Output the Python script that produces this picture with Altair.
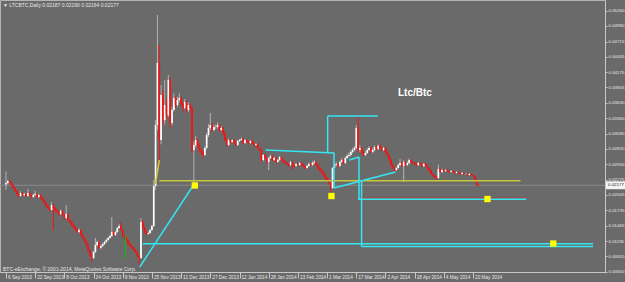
import altair as alt
import pandas as pd

START = pd.Timestamp("2013-09-06")

# ---- daily LTC/BTC candles ----
first_open = 0.02190
closes = [
    0.02217, 0.02252, 0.02234, 0.02181, 0.02128, 0.02075, 0.02022, 0.01987, 0.02040, 0.02005,
    0.02022, 0.01987, 0.02040, 0.02005, 0.01969, 0.02005, 0.02022, 0.01969, 0.02005, 0.01952,
    0.01916, 0.01863, 0.01810, 0.01775, 0.01740, 0.01828, 0.01775, 0.01740, 0.01704, 0.01669,
    0.01722, 0.01651, 0.01598, 0.01669, 0.01563, 0.01528, 0.01475, 0.01440, 0.01404, 0.01351,
    0.01386, 0.01298, 0.01245, 0.01192, 0.01122, 0.01033, 0.00945, 0.00892, 0.00998, 0.01122,
    0.01175, 0.01069, 0.01104, 0.01139, 0.01175, 0.01210, 0.01245, 0.01280, 0.01351, 0.01298,
    0.01351, 0.01422, 0.01457, 0.01386, 0.01280, 0.01245, 0.01210, 0.01139, 0.01104, 0.01069,
    0.01033, 0.00998, 0.00927, 0.00892, 0.01528, 0.01422, 0.01351, 0.01316, 0.01333, 0.01386,
    0.01457, 0.02164, 0.03241, 0.04336, 0.02976, 0.03771, 0.03329, 0.03594, 0.03418, 0.04036,
    0.03276, 0.03506, 0.03718, 0.03594, 0.03683, 0.03718, 0.03612, 0.03541, 0.03647, 0.03506,
    0.03594, 0.03541, 0.02800, 0.02888, 0.02976, 0.02888, 0.02800, 0.02764, 0.02711, 0.02835,
    0.03064, 0.03188, 0.03241, 0.03153, 0.03206, 0.03206, 0.03241, 0.03153, 0.03188, 0.03100,
    0.02976, 0.02888, 0.02976, 0.02941, 0.02976, 0.02923, 0.02888, 0.02959, 0.02976, 0.02994,
    0.02923, 0.02976, 0.02941, 0.02923, 0.02959, 0.02923, 0.02888, 0.02906, 0.02835, 0.02800,
    0.02623, 0.02711, 0.02658, 0.02588, 0.02658, 0.02694, 0.02623, 0.02658, 0.02588, 0.02623,
    0.02676, 0.02623, 0.02588, 0.02570, 0.02552, 0.02535, 0.02588, 0.02535, 0.02517, 0.02552,
    0.02535, 0.02570, 0.02535, 0.02517, 0.02482, 0.02517, 0.02552, 0.02535, 0.02570, 0.02588,
    0.02535, 0.02482, 0.02446, 0.02411, 0.02358, 0.02305, 0.02270, 0.02217, 0.02128, 0.02482,
    0.02535, 0.02552, 0.02517, 0.02588, 0.02623, 0.02570, 0.02658, 0.02694, 0.02711, 0.02764,
    0.02800, 0.02835, 0.03188, 0.02800, 0.02835, 0.02764, 0.02711, 0.02747, 0.02800, 0.02835,
    0.02764, 0.02800, 0.02853, 0.02817, 0.02870, 0.02835, 0.02800, 0.02835, 0.02764, 0.02711,
    0.02623, 0.02535, 0.02482, 0.02446, 0.02482, 0.02535, 0.02570, 0.02517, 0.02588, 0.02535,
    0.02570, 0.02623, 0.02588, 0.02570, 0.02552, 0.02535, 0.02570, 0.02552, 0.02517, 0.02552,
    0.02535, 0.02482, 0.02446, 0.02376, 0.02340, 0.02323, 0.02305, 0.02464, 0.02411, 0.02446,
    0.02429, 0.02446, 0.02429, 0.02411, 0.02429, 0.02411, 0.02393, 0.02411, 0.02393, 0.02376,
    0.02393, 0.02376, 0.02376, 0.02358, 0.02376, 0.02358, 0.02340, 0.02270, 0.02187, 0.02177,
]
highs = [
    0.02420, 0.02275, 0.02262, 0.02245, 0.02196, 0.02140, 0.02090, 0.02035, 0.02075, 0.02060,
    0.02050, 0.02035, 0.02110, 0.02055, 0.02020, 0.02030, 0.02080, 0.02035, 0.02025, 0.02015,
    0.01975, 0.01935, 0.01880, 0.01830, 0.01790, 0.01881, 0.01850, 0.01790, 0.01760, 0.01720,
    0.01750, 0.01735, 0.01665, 0.01828, 0.01680, 0.01580, 0.01545, 0.01490, 0.01460, 0.01420,
    0.01420, 0.01400, 0.01320, 0.01260, 0.01210, 0.01140, 0.01050, 0.00970, 0.01020, 0.01245,
    0.01200, 0.01190, 0.01125, 0.01160, 0.01195, 0.01235, 0.01265, 0.01310, 0.01616, 0.01370,
    0.01370, 0.01440, 0.01490, 0.01528, 0.01400, 0.01300, 0.01265, 0.01225, 0.01160, 0.01120,
    0.01085, 0.01050, 0.01010, 0.00945, 0.01598, 0.01560, 0.01440, 0.01370, 0.01360, 0.01410,
    0.01480, 0.02270, 0.03329, 0.05184, 0.04654, 0.03948, 0.03850, 0.04036, 0.03700, 0.04124,
    0.04080, 0.03560, 0.03800, 0.03760, 0.03740, 0.03800, 0.03740, 0.03650, 0.03700, 0.03680,
    0.03640, 0.03620, 0.03560, 0.02950, 0.03050, 0.03010, 0.02920, 0.02830, 0.02790, 0.02870,
    0.03100, 0.03260, 0.03453, 0.03270, 0.03240, 0.03250, 0.03290, 0.03260, 0.03220, 0.03210,
    0.03120, 0.03000, 0.03000, 0.02990, 0.02990, 0.02990, 0.02940, 0.02975, 0.02995, 0.03020,
    0.03010, 0.02990, 0.02990, 0.02955, 0.02975, 0.02975, 0.02940, 0.02925, 0.02920, 0.02850,
    0.02820, 0.02730, 0.02730, 0.02680, 0.02680, 0.02720, 0.02710, 0.02680, 0.02670, 0.02640,
    0.02700, 0.02690, 0.02640, 0.02610, 0.02590, 0.02570, 0.02610, 0.02600, 0.02550, 0.02570,
    0.02570, 0.02590, 0.02590, 0.02555, 0.02530, 0.02540, 0.02580, 0.02570, 0.02600, 0.02620,
    0.02600, 0.02550, 0.02500, 0.02470, 0.02430, 0.02380, 0.02330, 0.02290, 0.02240, 0.02500,
    0.02560, 0.02590, 0.02570, 0.02610, 0.02660, 0.02640, 0.02690, 0.02730, 0.02760, 0.02800,
    0.02840, 0.02870, 0.03241, 0.03382, 0.02880, 0.02860, 0.02790, 0.02780, 0.02830, 0.02870,
    0.02860, 0.02830, 0.02880, 0.02870, 0.02900, 0.02920, 0.02850, 0.02860, 0.02850, 0.02790,
    0.02730, 0.02650, 0.02560, 0.02500, 0.02500, 0.02560, 0.02640, 0.02600, 0.02620, 0.02600,
    0.02600, 0.02650, 0.02640, 0.02600, 0.02590, 0.02570, 0.02590, 0.02580, 0.02570, 0.02570,
    0.02570, 0.02550, 0.02500, 0.02460, 0.02390, 0.02360, 0.02340, 0.02540, 0.02480, 0.02470,
    0.02465, 0.02460, 0.02460, 0.02440, 0.02445, 0.02440, 0.02425, 0.02425, 0.02420, 0.02405,
    0.02410, 0.02400, 0.02390, 0.02385, 0.02390, 0.02380, 0.02370, 0.02350, 0.02280, 0.02190,
]
lows = [
    0.02100, 0.02200, 0.02215, 0.02165, 0.02110, 0.02060, 0.01995, 0.01960, 0.01975, 0.01990,
    0.01985, 0.01970, 0.01975, 0.01990, 0.01945, 0.01955, 0.01990, 0.01950, 0.01955, 0.01930,
    0.01895, 0.01845, 0.01790, 0.01755, 0.01715, 0.01730, 0.01386, 0.01715, 0.01680, 0.01640,
    0.01650, 0.01635, 0.01575, 0.01585, 0.01540, 0.01500, 0.01455, 0.01420, 0.01380, 0.01330,
    0.01330, 0.01280, 0.01225, 0.01170, 0.01100, 0.01010, 0.00920, 0.00821, 0.00870, 0.00980,
    0.01100, 0.01050, 0.01050, 0.01090, 0.01120, 0.01160, 0.01195, 0.01230, 0.01265, 0.01280,
    0.01280, 0.01335, 0.01405, 0.01370, 0.01260, 0.01225, 0.01190, 0.01120, 0.01085, 0.01050,
    0.01015, 0.00980, 0.00905, 0.00768, 0.00880, 0.01400, 0.01330, 0.01295, 0.01300, 0.01320,
    0.01370, 0.01440, 0.02100, 0.03150, 0.02499, 0.02900, 0.03250, 0.03250, 0.03350, 0.03380,
    0.03200, 0.03230, 0.03480, 0.03550, 0.03560, 0.03640, 0.03580, 0.03480, 0.03520, 0.03450,
    0.03470, 0.03500, 0.02750, 0.02217, 0.02850, 0.02860, 0.02760, 0.02720, 0.02660, 0.02690,
    0.02810, 0.03030, 0.03150, 0.03120, 0.03130, 0.03170, 0.03180, 0.03120, 0.03130, 0.03060,
    0.02950, 0.02860, 0.02870, 0.02920, 0.02925, 0.02900, 0.02870, 0.02870, 0.02940, 0.02960,
    0.02905, 0.02905, 0.02925, 0.02905, 0.02910, 0.02905, 0.02870, 0.02875, 0.02810, 0.02780,
    0.02590, 0.02600, 0.02640, 0.02560, 0.02446, 0.02640, 0.02600, 0.02610, 0.02570, 0.02570,
    0.02610, 0.02600, 0.02570, 0.02550, 0.02530, 0.02500, 0.02520, 0.02446, 0.02500, 0.02505,
    0.02515, 0.02520, 0.02520, 0.02495, 0.02460, 0.02470, 0.02500, 0.02515, 0.02520, 0.02555,
    0.02515, 0.02460, 0.02420, 0.02390, 0.02335, 0.02280, 0.02245, 0.02190, 0.02058, 0.02110,
    0.02460, 0.02510, 0.02495, 0.02500, 0.02570, 0.02550, 0.02550, 0.02640, 0.02670, 0.02690,
    0.02740, 0.02780, 0.02810, 0.02760, 0.02770, 0.02740, 0.02690, 0.02690, 0.02730, 0.02780,
    0.02740, 0.02740, 0.02780, 0.02800, 0.02800, 0.02810, 0.02780, 0.02780, 0.02740, 0.02690,
    0.02600, 0.02500, 0.02460, 0.02420, 0.02430, 0.02470, 0.02510, 0.02500, 0.02234, 0.02510,
    0.02515, 0.02550, 0.02570, 0.02550, 0.02535, 0.02510, 0.02520, 0.02535, 0.02495, 0.02500,
    0.02515, 0.02460, 0.02420, 0.02360, 0.02320, 0.02300, 0.02280, 0.02290, 0.02400, 0.02395,
    0.02415, 0.02415, 0.02415, 0.02395, 0.02400, 0.02400, 0.02380, 0.02385, 0.02380, 0.02360,
    0.02365, 0.02365, 0.02360, 0.02345, 0.02350, 0.02345, 0.02325, 0.02250, 0.02160, 0.02164,
]

# ---- axes ----
y_ticks = [0.05260, 0.04990, 0.04715, 0.04445, 0.04175, 0.03905, 0.03630, 0.03360, 0.03090,
           0.02820, 0.02550, 0.02275, 0.02005, 0.01735, 0.01465, 0.01190, 0.00920, 0.00650]
x_tick_labels = ["6 Sep 2013", "22 Sep 2013", "8 Oct 2013", "24 Oct 2013", "9 Nov 2013",
                 "25 Nov 2013", "11 Dec 2013", "27 Dec 2013", "12 Jan 2014", "28 Jan 2014",
                 "13 Feb 2014", "1 Mar 2014", "17 Mar 2014", "2 Apr 2014", "18 Apr 2014",
                 "4 May 2014", "20 May 2014"]

# ---- drawn objects (day offset from start, price) ----
cyan_x1 = [73.3, 74.9, 142.3, 176.3, 176.3, 179.8, 179.8, 188.1, 193.5, 193.0, 194.9, 194.9]
cyan_p1 = [0.00733, 0.01145, 0.02800, 0.02747, 0.03400, 0.02747, 0.02128, 0.02623, 0.02676, 0.01929, 0.02234, 0.01095]
cyan_x2 = [103.5, 321.8, 180.0, 176.3, 203.8, 179.8, 213.5, 193.5, 193.5, 285.2, 194.9, 321.8]
cyan_p2 = [0.02217, 0.01145, 0.02747, 0.03400, 0.03400, 0.02128, 0.02411, 0.02676, 0.01929, 0.01929, 0.01095, 0.01095]
yellow_x1 = [84.1, 81.9]
yellow_p1 = [0.02257, 0.02199]
yellow_x2 = [282.0, 84.1]
yellow_p2 = [0.02257, 0.02623]
red_x1, red_p1, red_x2, red_p2 = [193.5], [0.01955], [285.2], [0.01955]
green_x1, green_p1, green_x2, green_p2 = [65.5], [0.01298], [65.5], [0.00892]
mark_days = [103.5, 178.4, 263.9, 300.0]
mark_prices = [0.02173, 0.01987, 0.01934, 0.01148]
last_price = 0.02177

# ---- build tables ----
dates = pd.date_range(START, periods=len(closes), freq="D")
opens = [first_open] + closes[:-1]
cdf = pd.DataFrame({
    "day": [(d - START).days for d in dates],
    "open": opens,
    "high": [max(h, o, c) for h, o, c in zip(highs, opens, closes)],
    "low": [min(l, o, c) for l, o, c in zip(lows, opens, closes)],
    "close": closes,
})
x_tick_days = [(pd.to_datetime(s, format="%d %b %Y") - START).days for s in x_tick_labels]


def segs(x1, p1, x2, p2):
    return pd.DataFrame({"x1": x1, "p1": p1, "x2": x2, "p2": p2})


BG = "#6a6a6a"
TXT = "#e8e8e8"
AX = "#c8c8c8"
FONT = "Liberation Sans"
xs = alt.Scale(domain=[-0.54, 325.6], nice=False, zero=False)
ys = alt.Scale(domain=[0.00645, 0.05449], nice=False, zero=False)

label_expr = ("[" + ",".join(f"'{s}'" for s in x_tick_labels) + "][indexof(["
              + ",".join(str(d) for d in x_tick_days) + "], datum.value)]")

x_axis = alt.Axis(values=x_tick_days, labelExpr=label_expr, orient="bottom", title=None,
                  grid=False, domainColor=AX, tickColor=AX, tickSize=6,
                  labelFontSize=4.7, labelColor=TXT, labelFont=FONT, labelAlign="left",
                  labelOffset=1.5, labelBaseline="middle", labelPadding=-1,
                  labelFlush=False, labelOverlap=False, labelBound=False)
y_axis = alt.Axis(values=y_ticks, format=".5f", orient="right", title=None, grid=False,
                  domainColor=AX, tickColor=AX, tickSize=2,
                  labelFontSize=4.4, labelColor=TXT, labelFont=FONT, labelPadding=1,
                  labelBaseline="middle", labelAlign="left", labelFlush=False,
                  labelOverlap=False, labelBound=False)


def X(field):
    return alt.X(field, scale=xs, axis=x_axis)


def Y(field):
    return alt.Y(field, scale=ys, axis=y_axis)


up = "datum.close >= datum.open"
wicks = alt.Chart(cdf).mark_rule(strokeWidth=1).encode(
    x=X("day:Q"), y=Y("low:Q"), y2="high:Q",
    color=alt.condition(up, alt.value("#b4b4b4"), alt.value("#f01414")),
)
bodies = alt.Chart(cdf).mark_bar(size=1.7).encode(
    x=X("day:Q"), y=Y("open:Q"), y2="close:Q",
    color=alt.condition(up, alt.value("#ffffff"), alt.value("#f01414")),
)


def seg_layer(df, color, width):
    return alt.Chart(df).mark_rule(color=color, strokeWidth=width).encode(
        x=X("x1:Q"), x2="x2:Q", y=Y("p1:Q"), y2="p2:Q")


price_line = alt.Chart(pd.DataFrame({"p": [last_price]})).mark_rule(
    color="#88888c", strokeWidth=1).encode(y=Y("p:Q"))

red = seg_layer(segs(red_x1, red_p1, red_x2, red_p2), "#b04040", 1)
green = seg_layer(segs(green_x1, green_p1, green_x2, green_p2), "#10c010", 1)
yellow = seg_layer(segs(yellow_x1, yellow_p1, yellow_x2, yellow_p2), "#c8c83c", 1.6)
cyan = seg_layer(segs(cyan_x1, cyan_p1, cyan_x2, cyan_p2), "#33e6f2", 1.5)

marks = alt.Chart(pd.DataFrame({"d": mark_days, "p": mark_prices})).mark_square(
    size=40, color="#ffff00", opacity=1).encode(x=X("d:Q"), y=Y("p:Q"))

box_df = pd.DataFrame({"top": [last_price + 0.0007], "bot": [last_price - 0.0007],
                       "p": [last_price], "t": [f"{last_price:.5f}"]})
price_box = alt.Chart(box_df).mark_rect(color="#f4f4f4").encode(
    x=alt.value(606), x2=alt.value(625), y=Y("top:Q"), y2="bot:Q")
price_txt = alt.Chart(box_df).mark_text(
    align="left", baseline="middle", fontSize=4.4, font=FONT, color="#202020").encode(
    x=alt.value(608), y=Y("p:Q"), text="t:N")

title_txt = alt.Chart(pd.DataFrame({"t": ["\u25bc LTCBTC,Daily  0.02187 0.02190 0.02164 0.02177"]})).mark_text(
    align="left", baseline="middle", fontSize=5, font=FONT, color=TXT).encode(
    x=alt.value(3), y=alt.value(5), text="t:N")
copy_txt = alt.Chart(pd.DataFrame({"t": ["BTC-eExchange, \u00a9 2001-2014, MetaQuotes Software Corp."]})).mark_text(
    align="left", baseline="middle", fontSize=5, font=FONT, color=TXT).encode(
    x=alt.value(3), y=alt.value(269), text="t:N")
name_txt = alt.Chart(pd.DataFrame({"t": ["Ltc/Btc"]})).mark_text(
    align="left", baseline="middle", fontSize=10, fontWeight="bold", font=FONT,
    color="#ffffff").encode(x=alt.value(398), y=alt.value(93), text="t:N")

chart = alt.layer(
    price_line, wicks, bodies, green, red, yellow, cyan, marks,
    price_box, price_txt, title_txt, copy_txt, name_txt,
).properties(
    width=605, height=272, autosize="none",
    padding={"left": 0, "top": 0, "right": 20, "bottom": 10},
    background=BG,
).configure_view(stroke="#b4b4b4", fill=BG)

chart.save("out.html", embed_options={"renderer": "svg", "actions": False})
